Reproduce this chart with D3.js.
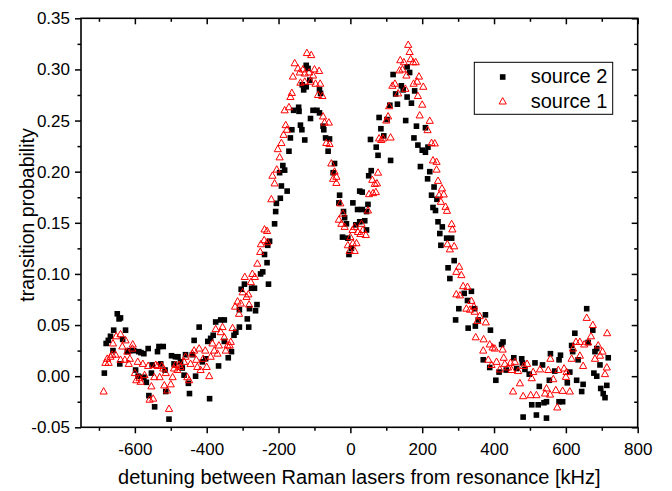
<!DOCTYPE html>
<html>
<head>
<meta charset="utf-8">
<script src="https://cdn.jsdelivr.net/npm/d3@7"></script>
<style>
  html, body { margin: 0; padding: 0; background: #fff; }
  svg { display: block; font-family: "Liberation Sans", Arial, sans-serif; }
</style>
</head>
<body>
<svg id="chart" width="672" height="491"></svg>
<script>
// Axis ticks
const xMajorTicks = [-600, -400, -200, 0, 200, 400, 600, 800];
const xMinorTicks = [-700, -500, -300, -100, 100, 300, 500, 700];
const yMajorTicks = [-0.05, 0, 0.05, 0.10, 0.15, 0.20, 0.25, 0.30, 0.35];
const yMinorTicks = [-0.025, 0.025, 0.075, 0.125, 0.175, 0.225, 0.275, 0.325];

// Series: [detuning (kHz), transition probability]
const source2 = [
  [-685,0.003],[-680,0.032],[-674,0.035],[-668,0.039],[-661,0.025],[-659,0.045],[-649,0.061],[-644,0.056],
  [-640,0.057],[-642,0.012],[-634,0.036],[-626,0.045],[-621,0.024],[-615,0.025],[-603,0.025],[-598,0.006],
  [-591,0.000],[-589,0.024],[-583,0.023],[-575,-0.001],[-575,0.022],[-568,-0.006],[-563,0.027],[-561,-0.019],
  [-554,0.003],[-552,0.011],[-545,-0.030],[-537,0.024],[-533,0.029],[-528,0.012],[-521,0.029],[-516,0.006],
  [-514,-0.015],[-505,-0.042],[-498,0.020],[-491,0.012],[-487,0.019],[-480,0.019],[-473,0.014],[-468,0.008],
  [-463,0.001],[-459,0.021],[-451,-0.007],[-448,-0.017],[-440,0.021],[-435,0.035],[-431,0.000],[-421,0.048],
  [-412,0.014],[-403,0.017],[-397,0.034],[-392,-0.022],[-389,0.037],[-382,0.040],[-375,0.053],[-367,0.010],
  [-361,0.055],[-351,0.055],[-351,0.034],[-340,0.018],[-331,0.024],[-324,0.040],[-319,0.043],
  [-309,0.048],[-309,0.065],[-304,0.085],[-295,0.090],[-287,0.056],[-283,0.048],[-281,0.066],[-275,0.086],
  [-267,0.086],[-264,0.064],[-260,0.070],[-250,0.100],[-244,0.102],[-239,0.119],[-232,0.111],[-230,0.128],
  [-228,0.090],[-225,0.132],[-211,0.149],[-208,0.161],[-206,0.169],[-195,0.174],[-176,0.181],
  [-192,0.186],[-197,0.199],[-183,0.2015],[-188,0.206],[-171,0.220],[-167,0.233],[-163,0.241],[-158,0.260],
  [-144,0.263],[-143,0.259],[-139,0.2455],[-135,0.241],[-134,0.285],[-130,0.280],[-127,0.231],[-123,0.304],
  [-118,0.301],[-123,0.283],[-113,0.2895],[-111,0.252],[-104,0.260],[-93,0.260],[-86,0.2575],[-86,0.280],
  [-83,0.2765],[-76,0.2445],[-74,0.241],[-69,0.233],[-62,0.220],[-58,0.232],[-48,0.199],[-44,0.208],[-30,0.177],
  [-32,0.1695],[-22,0.136],[-19,0.161],[-16,0.155],[-11,0.149],[-7,0.135],[-4,0.119],[3,0.125],[7,0.1695],
  [15,0.148],[20,0.163],[26,0.181],[33,0.180],[26,0.151],[33,0.163],[40,0.152],[45,0.143],[45,0.161],
  [49,0.168],[51,0.196],[58,0.201],[56,0.2315],[72,0.224],[77,0.216],[80,0.253],[85,0.242],[93,0.235],
  [102,0.251],[110,0.265],[112,0.211],[119,0.295],[126,0.276],[131,0.266],[142,0.284],[147,0.280],[154,0.250],
  [158,0.3025],[158,0.273],[165,0.297],[170,0.267],[177,0.233],[179,0.279],[184,0.2445],[188,0.226],[195,0.205],
  [200,0.221],[209,0.243],[216,0.224],[209,0.219],[221,0.200],[215,0.193],[233,0.185],[226,0.177],[241,0.173],
  [230,0.165],[237,0.162],[244,0.151],[256,0.146],[249,0.1395],[252,0.128],[268,0.135],[282,0.135],[289,0.113],
  [272,0.106],[277,0.0955],[337,0.083],[317,0.081],[326,0.074],[302,0.066],[346,0.066],[293,0.055],[328,0.047],
  [348,0.049],[356,0.055],[376,0.060],
  [390,0.045],[425,0.0335],[421,0.031],[370,0.016],[388,0.0085],[405,-0.004],[414,0.004],[434,0.006],[455,0.018],
  [477,0.017],[479,0.013],[463,0.0075],[486,0.0066],[514,0.013],[498,0.002],[535,0.011],[557,0.022],[585,0.0205],
  [581,0.016],[569,0.005],[554,-0.004],[526,-0.010],[505,-0.028],[523,-0.028],[539,-0.026],[546,-0.025],
  [581,-0.025],[591,-0.025],[481,-0.040],[518,-0.038],[546,-0.041],[604,-0.0065],[611,0.004],[630,-0.004],
  [648,-0.008],[644,-0.015],[619,0.024],[625,0.042],[616,0.030],[634,0.016],[658,0.066],[675,0.045],[662,0.033],
  [681,0.024],[686,0.027],[678,0.003],[686,0.000],[697,-0.012],[704,-0.017],[709,-0.021],[714,-0.009],
  [718,0.018],[695,0.011]
];

const source1 = [
  [-687,-0.015],[-682,0.013],[-677,0.017],[-673,0.013],[-668,0.019],[-663,0.021],[-661,0.032],[-654,0.021],
  [-652,0.039],[-640,0.041],[-640,0.016],[-635,0.029],[-628,0.016],[-626,0.035],[-621,0.024],[-617,0.012],
  [-614,0.017],[-607,0.027],[-606,0.031],[-600,0.003],[-596,-0.004],[-592,0.014],[-587,-0.002],[-584,-0.0055],
  [-578,0.012],[-573,0.001],[-563,0.010],[-559,-0.023],[-554,-0.010],[-549,-0.022],[-546,-0.001],[-542,0.011],
  [-537,0.010],[-531,-0.001],[-525,0.010],[-521,0.0075],[-518,-0.009],[-514,0.003],[-510,-0.014],[-505,-0.032],
  [-500,-0.008],[-495,-0.001],[-491,0.0075],[-487,0.011],[-482,0.006],[-477,0.011],[-473,0.009],[-463,0.014],
  [-459,0.019],[-454,-0.001],[-449,-0.004],[-445,0.012],[-440,0.022],[-435,0.025],[-429,0.016],[-426,0.009],
  [-421,0.027],[-417,0.006],[-410,0.017],[-404,0.025],[-400,0.009],[-393,0.000],[-389,0.019],[-384,0.032],
  [-379,0.025],[-375,0.046],[-370,0.022],[-366,0.030],[-361,0.043],[-356,0.048],[-351,0.038],[-347,0.025],
  [-342,0.030],[-336,0.030],[-333,0.0335],[-328,0.047],
  [-321,0.068],[-314,0.073],[-310,0.061],[-305,0.071],[-300,0.082],[-294,0.097],[-289,0.0775],[-284,0.080],
  [-282,0.070],[-277,0.092],[-273,0.100],[-266,0.097],[-259,0.110],[-251,0.1215],[-249,0.129],[-240,0.133],
  [-239,0.1435],[-232,0.142],[-231,0.131],
  [-220,0.173],[-217,0.196],[-211,0.1885],[-205,0.202],[-202,0.222],[-197,0.214],[-192,0.228],[-186,0.236],
  [-183,0.260],[-180,0.2455],[-177,0.241],[-171,0.263],[-167,0.273],[-163,0.277],[-160,0.293],[-155,0.306],
  [-146,0.301],[-141,0.297],[-139,0.287],[-132,0.300],[-127,0.296],[-127,0.288],[-121,0.316],[-115,0.297],
  [-111,0.288],[-109,0.314],[-104,0.294],[-100,0.300],[-97,0.286],[-90,0.275],[-87,0.2985],[-84,0.286],
  [-78,0.274],[-76,0.254],[-72,0.248],[-67,0.228],[-60,0.248],[-58,0.227],[-53,0.208],[-48,0.193],[-44,0.200],
  [-39,0.195],[-39,0.189],
  [-28,0.169],[-21,0.159],[-32,0.153],[-25,0.149],[-16,0.146],[-7,0.128],[-2,0.1225],[0,0.136],[6,0.143],
  [7,0.130],[12,0.146],[12,0.1225],[17,0.130],[21,0.141],[28,0.139],[31,0.149],[35,0.143],[43,0.138],
  [49,0.162],[52,0.178],[61,0.192],[63,0.179],[68,0.188],[71,0.180],[74,0.1885],[77,0.199],
  [80,0.2325],[86,0.231],[91,0.2325],[100,0.250],[105,0.254],[108,0.264],[112,0.2334],[117,0.284],[124,0.286],
  [133,0.2765],[137,0.299],[139,0.309],[145,0.300],[149,0.307],[153,0.281],[156,0.294],[161,0.324],[165,0.317],
  [168,0.310],[175,0.307],[176,0.286],[182,0.307],[186,0.288],[188,0.274],[191,0.293],[193,0.255],[200,0.2655],
  [203,0.283],
  [215,0.2406],[221,0.2497],[226,0.228],[235,0.2276],[230,0.211],[240,0.2096],[240,0.202],[244,0.191],[247,0.177],
  [252,0.1705],[255,0.1836],[260,0.1777],[265,0.1656],[269,0.1617],[282,0.1487],[284,0.1435],[270,0.129],
  [277,0.124],[289,0.127],[295,0.102],[303,0.107],[309,0.0988],[314,0.088],[326,0.0873],[295,0.080],[305,0.079],
  [323,0.066],[333,0.065],[337,0.0736],[344,0.068],[346,0.063],[354,0.054],[360,0.0587],[377,0.0526],
  [349,0.038],[371,0.036],[388,0.031],[396,0.028],[402,0.027],[370,0.025],[424,0.026],[427,0.018],[384,0.016],
  [393,0.011],[407,0.014],[416,0.0066],[430,0.012],[439,0.0085],[446,0.013],[458,0.014],[449,0.006],[467,0.005],
  [472,-0.007],[483,0.010],[492,0.012],[505,-0.002],[509,0.004],[528,0.0066],[551,0.006],[557,0.017],
  [565,-0.003],[579,0.006],[595,0.0075],[602,0.004],[600,-0.0007],[453,-0.015],[481,-0.0196],[502,-0.0186],
  [518,-0.0186],[542,-0.017],[556,-0.018],[546,-0.012],[572,-0.0137],[591,-0.0144],[611,-0.015],[576,-0.0306],
  [616,0.017],[628,0.0335],[639,0.0335],[651,0.031],[662,0.033],[658,0.057],[675,0.050],[670,0.039],[690,0.030],
  [702,0.024],[681,0.017],[695,0.020],[714,0.0085],[709,0.002],[715,0.042],[648,0.010],[639,0.020],[620,0.027]
];

const seriesNames = ["source 2", "source 1"];
const xTitle = "detuning between Raman lasers from resonance [kHz]";
const yTitle = "transition probability";

const svg = d3.select("#chart");
const plot = { left: 81, right: 637.7, top: 18.3, bottom: 427.3 };

const x = d3.scaleLinear().domain([-750, 800]).range([plot.left, plot.right]);
const y = d3.scaleLinear().domain([-0.05, 0.35]).range([plot.bottom, plot.top]);

svg.append("rect").attr("width", 672).attr("height", 491).attr("fill", "#fff");

function styleAxis(g) {
  g.select(".domain").remove();
  g.selectAll(".tick line").attr("stroke", "#000").attr("stroke-width", 1.5);
  g.selectAll(".tick text").attr("fill", "#000").attr("font-size", 17)
    .attr("font-family", '"Liberation Sans", Arial, sans-serif');
}

// Bottom axis: labelled major ticks and minor ticks, both outward
svg.append("g").attr("transform", `translate(0,${plot.bottom})`)
  .call(d3.axisBottom(x).tickValues(xMajorTicks).tickSize(6).tickPadding(9.5).tickFormat(d => String(d)))
  .call(styleAxis);
svg.append("g").attr("transform", `translate(0,${plot.bottom})`)
  .call(d3.axisBottom(x).tickValues(xMinorTicks).tickSize(3.5).tickFormat(""))
  .call(styleAxis);

// Left axis
svg.append("g").attr("transform", `translate(${plot.left},0)`)
  .call(d3.axisLeft(y).tickValues(yMajorTicks).tickSize(6).tickPadding(5).tickFormat(d => d.toFixed(2)))
  .call(styleAxis);
svg.append("g").attr("transform", `translate(${plot.left},0)`)
  .call(d3.axisLeft(y).tickValues(yMinorTicks).tickSize(3.5).tickFormat(""))
  .call(styleAxis);

// Top and right axes: ticks pointing inward, no labels
svg.append("g").attr("transform", `translate(0,${plot.top})`)
  .call(d3.axisTop(x).tickValues(xMajorTicks).tickSize(-6).tickFormat(""))
  .call(styleAxis);
svg.append("g").attr("transform", `translate(0,${plot.top})`)
  .call(d3.axisTop(x).tickValues(xMinorTicks).tickSize(-3.5).tickFormat(""))
  .call(styleAxis);
svg.append("g").attr("transform", `translate(${plot.right},0)`)
  .call(d3.axisRight(y).tickValues(yMajorTicks).tickSize(-6).tickFormat(""))
  .call(styleAxis);
svg.append("g").attr("transform", `translate(${plot.right},0)`)
  .call(d3.axisRight(y).tickValues(yMinorTicks).tickSize(-3.5).tickFormat(""))
  .call(styleAxis);

// Frame
svg.append("rect")
  .attr("x", plot.left).attr("y", plot.top)
  .attr("width", plot.right - plot.left).attr("height", plot.bottom - plot.top)
  .attr("fill", "none").attr("stroke", "#000").attr("stroke-width", 1.6);

// Marker shapes
const sq = 5.6;
const triPath = "M0,-3.9L3.6,2.5L-3.6,2.5Z";

// source 2: filled black squares
svg.append("g").selectAll("rect").data(source2).join("rect")
  .attr("x", d => x(d[0]) - sq / 2).attr("y", d => y(d[1]) - sq / 2)
  .attr("width", sq).attr("height", sq).attr("fill", "#000");

// source 1: open red triangles
svg.append("g").selectAll("path").data(source1).join("path")
  .attr("d", triPath)
  .attr("transform", d => `translate(${x(d[0])},${y(d[1])})`)
  .attr("fill", "none").attr("stroke", "#ff0000").attr("stroke-width", 1);

// Axis titles
svg.append("text")
  .attr("x", (plot.left + plot.right) / 2).attr("y", 484)
  .attr("text-anchor", "middle").attr("font-size", 20).attr("fill", "#000")
  .text(xTitle);
svg.append("text")
  .attr("transform", "translate(34,215) rotate(-90)")
  .attr("text-anchor", "middle").attr("font-size", 19.5).attr("fill", "#000")
  .text(yTitle);

// Legend
const lg = svg.append("g");
lg.append("rect").attr("x", 474.3).attr("y", 62.3).attr("width", 138.4).attr("height", 52)
  .attr("fill", "#fff").attr("stroke", "#000").attr("stroke-width", 1);
lg.append("rect").attr("x", 502.7 - sq / 2).attr("y", 77 - sq / 2).attr("width", sq).attr("height", sq).attr("fill", "#000");
lg.append("path").attr("d", triPath).attr("transform", "translate(502.7,101.5)")
  .attr("fill", "none").attr("stroke", "#ff0000").attr("stroke-width", 1);
lg.selectAll("text").data(seriesNames).join("text")
  .attr("x", 530.7).attr("y", (d, i) => 83 + i * 25)
  .attr("font-size", 20).attr("fill", "#000")
  .text(d => d);
</script>
</body>
</html>
